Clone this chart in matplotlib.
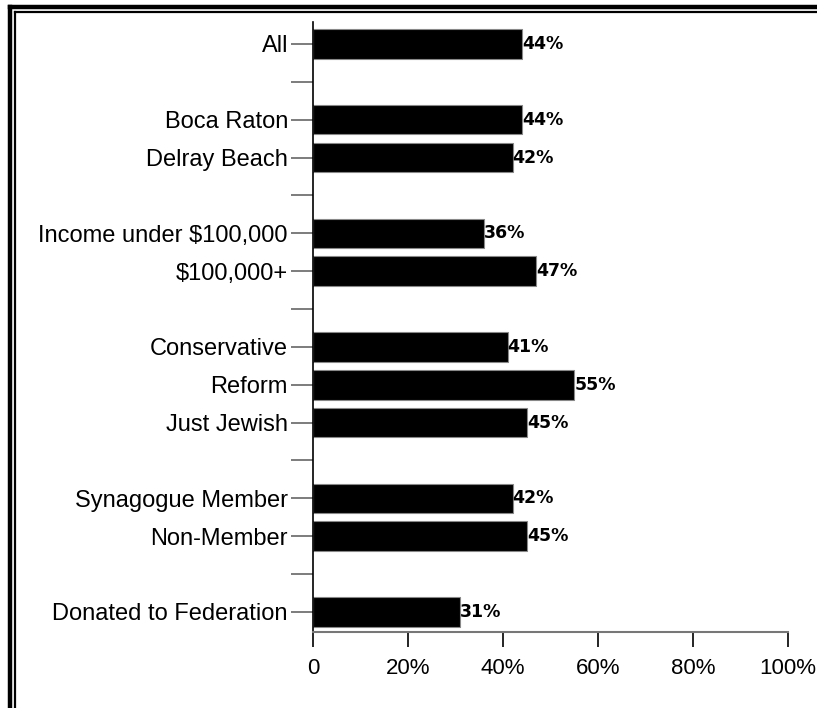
import numpy as np
import matplotlib.pyplot as plt
from matplotlib.lines import Line2D

# rows top to bottom; empty strings are spacer rows between groups
labels = ['All', '',
          'Boca Raton', 'Delray Beach', '',
          'Income under $100,000', '$100,000+', '',
          'Conservative', 'Reform', 'Just Jewish', '',
          'Synagogue Member', 'Non-Member', '',
          'Donated to Federation']
values = [44, None,
          44, 42, None,
          36, 47, None,
          41, 55, 45, None,
          42, 45, None,
          31]
xticks = [0, 20, 40, 60, 80, 100]
xtick_labels = ['0', '20%', '40%', '60%', '80%', '100%']

plt.rcParams['font.family'] = ['Liberation Sans', 'DejaVu Sans']

fig = plt.figure(figsize=(8.17, 7.08), dpi=100)
ax = fig.add_axes([313/817, 76/708, 475/817, 610/708])

pos = np.arange(len(labels))
for y, v in zip(pos, values):
    if v is None:
        continue
    ax.barh(y, v, height=0.78, color='black', edgecolor='#888888', linewidth=0.8)
    ax.text(v, y, '%d%%' % v, va='center', ha='left', fontsize=12.5,
            fontweight='bold', family='DejaVu Sans', color='black')

ax.set_xlim(0, 100)
ax.set_ylim(15.53, -0.58)
ax.set_yticks(pos)
ax.set_yticklabels(labels, fontsize=17)
ax.set_xticks(xticks)
ax.set_xticklabels(xtick_labels, fontsize=16)

ax.tick_params(axis='y', length=16, width=1.2, color='#666666', pad=2)
ax.tick_params(axis='x', length=11, width=1.2, color='black', pad=8)

for s in ['top', 'right']:
    ax.spines[s].set_visible(False)
ax.spines['left'].set_color('black')
ax.spines['left'].set_linewidth(1.2)
ax.spines['bottom'].set_color('#777777')
ax.spines['bottom'].set_linewidth(1.5)

# double frame along top and left edges
def fx(px):
    return px / 817

def fy(py):
    return 1 - py / 708

fig.add_artist(Line2D([fx(10), 1], [fy(7), fy(7)], color='black', lw=3.2))
fig.add_artist(Line2D([fx(10), fx(10)], [fy(7), 0], color='black', lw=3.2))
fig.add_artist(Line2D([fx(15), 1], [fy(12), fy(12)], color='black', lw=1.6))
fig.add_artist(Line2D([fx(15), fx(15)], [fy(12), 0], color='black', lw=1.6))

fig.savefig('out.png', dpi=100)
